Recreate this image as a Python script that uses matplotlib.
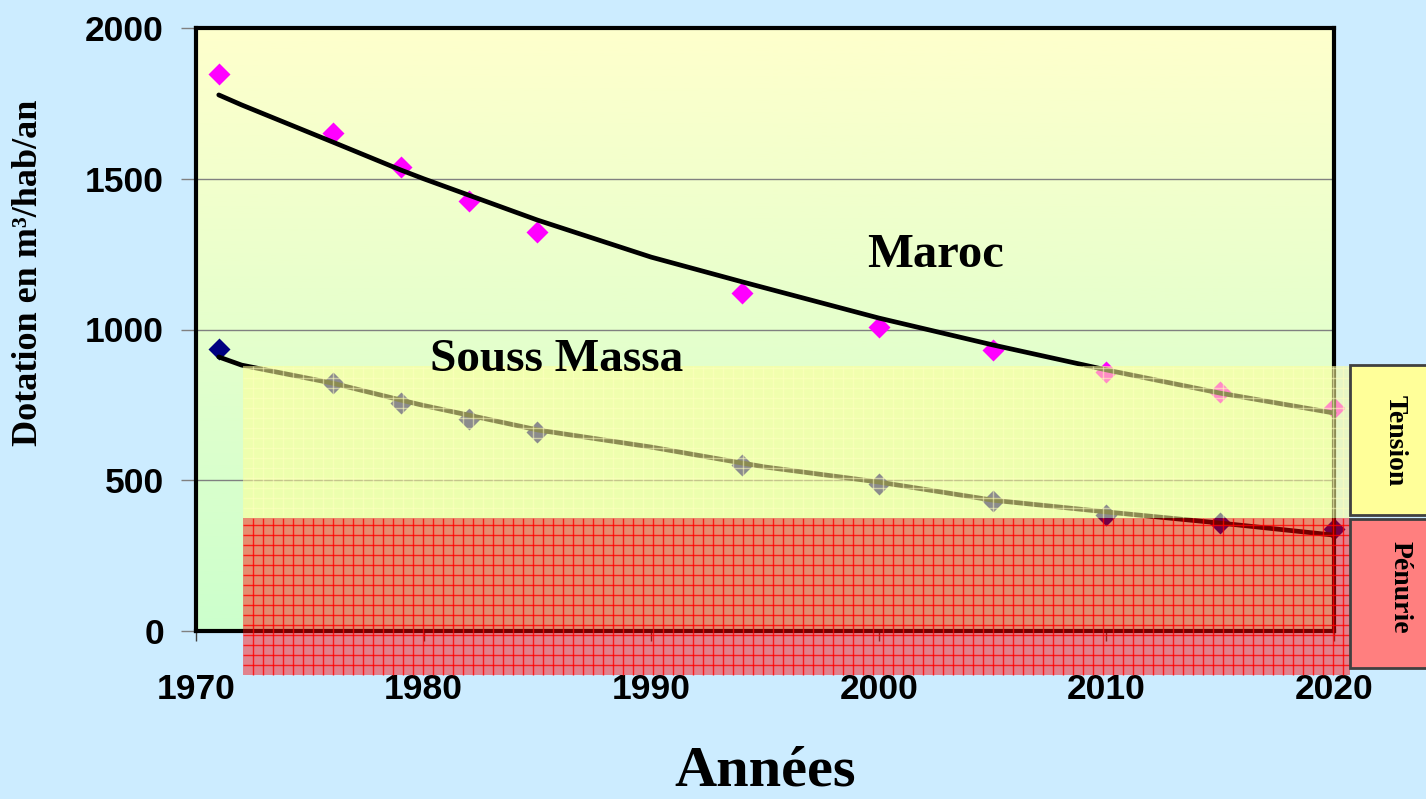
import numpy as np
import matplotlib
matplotlib.use("Agg")
import matplotlib.pyplot as plt
from matplotlib.patches import Rectangle
from matplotlib.colors import LinearSegmentedColormap

# observed values (m3/hab/an)
years = [1971, 1976, 1979, 1982, 1985, 1994, 2000, 2005, 2010, 2015, 2020]
maroc = [1847, 1652, 1539, 1426, 1323, 1121, 1008, 932, 859, 793, 740]
souss = [935, 822, 756, 703, 660, 551, 488, 431, 385, 358, 338]

# trend curves as drawn on the chart
trend_years = [1971, 1972, 1976, 1979, 1980, 1985, 1990, 1994, 1995, 2000, 2005, 2010, 2015, 2020]
maroc_trend = [1778, 1745, 1622, 1529, 1500, 1363, 1240, 1158, 1138, 1038, 949, 866, 789, 723]
souss_trend = [909, 882, 822, 766, 748, 667, 610, 557, 544, 494, 434, 395, 358, 318]

# shaded stress zones (data units, as placed on the slide)
zone_x = (1972.07, 2020.7)
penurie_y = (-146, 375)
tension_y = (375, 879)
grid_dx = 50 / 113.8     # 10 px
grid_dy = 2000 / 60.3    # 10 px

serif = ['Liberation Serif', 'DejaVu Serif']
sans = ['Liberation Sans', 'DejaVu Sans']

fig = plt.figure(figsize=(14.26, 7.99), dpi=100, facecolor='#CCECFF')
ax = fig.add_axes([196 / 1426, 1 - 631 / 799, (1334 - 196) / 1426, (631 - 28) / 799])

# gradient background
cmap = LinearSegmentedColormap.from_list('bg', ['#FFFFCC', '#CCFFCC'])
ax.imshow(np.linspace(0, 1, 256).reshape(-1, 1), cmap=cmap, extent=[1970, 2020, 0, 2000],
          aspect='auto', origin='upper', zorder=0)
ax.set_xlim(1970, 2020)
ax.set_ylim(0, 2000)

ax.set_axisbelow(True)
ax.yaxis.grid(True, color='#808080', lw=1.0)
ax.set_yticks([0, 500, 1000, 1500, 2000])
ax.set_xticks(range(1970, 2021, 10))

ax.plot(trend_years, maroc_trend, color='black', lw=3.4, zorder=3, solid_capstyle='round', clip_on=False)
ax.plot(trend_years, souss_trend, color='black', lw=3.4, zorder=3, solid_capstyle='round', clip_on=False)
ax.plot(years, maroc, ls='none', marker='D', ms=11, color='#FF00FF', mec='none', zorder=2, clip_on=False)
ax.plot(years, souss, ls='none', marker='D', ms=11, color='#000080', mec='none', zorder=2, clip_on=False)

for s in ax.spines.values():
    s.set_linewidth(3)
    s.set_color('black')

ax.tick_params(axis='y', direction='out', length=11, width=1, color='#808080', pad=12)
ax.tick_params(axis='x', direction='out', length=7, width=1, color='#404040', pad=23)
for lab in ax.get_xticklabels() + ax.get_yticklabels():
    lab.set_fontfamily(sans)
    lab.set_fontweight('bold')
    lab.set_fontsize(25.5)

# zones drawn over the curves
w = zone_x[1] - zone_x[0]
ax.add_patch(Rectangle((zone_x[0], tension_y[0]), w, tension_y[1] - tension_y[0],
                       facecolor=(1, 1, 0.59), alpha=0.55, lw=0, zorder=5, clip_on=False))
ax.add_patch(Rectangle((zone_x[0], penurie_y[0]), w, penurie_y[1] - penurie_y[0],
                       facecolor=(1, 0, 0), alpha=0.45, lw=0, zorder=5, clip_on=False))

gx = np.arange(zone_x[0] + grid_dx, zone_x[1], grid_dx)
yel = [(1, 1, 0.75, 0.55)]
red = [(1, 0, 0, 0.8)]
ax.vlines(gx, tension_y[0], tension_y[1], colors=yel, lw=1.0, zorder=5.5, clip_on=False)
ax.hlines(np.arange(tension_y[0] + grid_dy, tension_y[1], grid_dy), zone_x[0], zone_x[1],
          colors=yel, lw=1.0, zorder=5.5, clip_on=False)
ax.vlines(gx, penurie_y[0], penurie_y[1], colors=red, lw=1.0, zorder=5.5, clip_on=False)
ax.hlines(np.arange(penurie_y[0] + grid_dy, penurie_y[1], grid_dy), zone_x[0], zone_x[1],
          colors=red, lw=1.0, zorder=5.5, clip_on=False)

ax.text(2002.47, 1247, 'Maroc', family=serif, weight='bold', fontsize=35,
        ha='center', va='center', zorder=7)
ax.text(1985.86, 899, 'Souss Massa', family=serif, weight='bold', fontsize=34,
        ha='center', va='center', zorder=7)

# legend boxes on the right
def fx(px):
    return px / 1426

def fy(py):
    return 1 - py / 799

fig.add_artist(Rectangle((fx(1350), fy(515)), fx(90), 150 / 799, transform=fig.transFigure,
                         facecolor='#FFFF99', edgecolor='#404040', lw=2))
fig.add_artist(Rectangle((fx(1350), fy(668)), fx(90), 149 / 799, transform=fig.transFigure,
                         facecolor='#FF7F7F', edgecolor='#404040', lw=2))
fig.text(fx(1395), fy(441), 'Tension', family=serif, weight='bold', fontsize=20,
         rotation=-90, ha='center', va='center')
fig.text(fx(1400), fy(587), 'Pénurie', family=serif, weight='bold', fontsize=20,
         rotation=-90, ha='center', va='center')

fig.text(fx(29), fy(273), 'Dotation en m³/hab/an', family=serif, weight='bold', fontsize=26,
         rotation=90, ha='center', va='center')
fig.text(fx(765), fy(772), 'Années', family=serif, weight='bold', fontsize=42,
         ha='center', va='center')

fig.savefig('out.png', dpi=100, facecolor=fig.get_facecolor())
